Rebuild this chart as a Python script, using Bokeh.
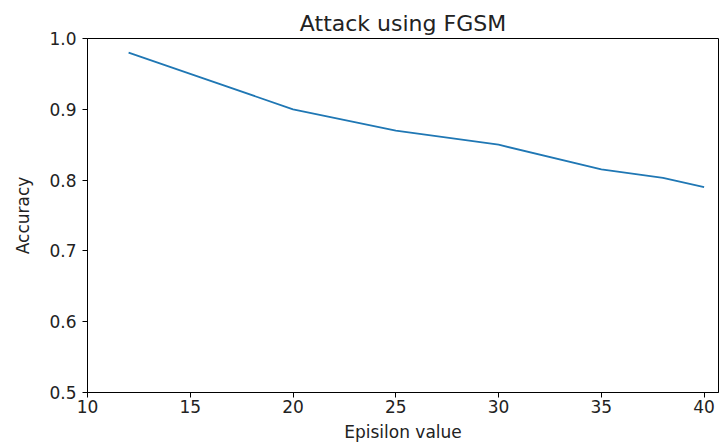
from bokeh.plotting import figure
from bokeh.embed import file_html
from bokeh.resources import INLINE
from bokeh.models import FixedTicker, Range1d, PrintfTickFormatter

epsilon = [12, 15, 20, 25, 30, 35, 38, 40]
accuracy = [0.98, 0.95, 0.90, 0.87, 0.85, 0.815, 0.803, 0.79]
x_ticks = [10, 15, 20, 25, 30, 35, 40]
y_ticks = [0.5, 0.6, 0.7, 0.8, 0.9, 1.0]

FONT = "DejaVu Sans"

p = figure(width=720, height=448, output_backend="svg", toolbar_location=None,
           x_range=Range1d(10, 40.7), y_range=Range1d(0.5, 1.0),
           title="Attack using FGSM",
           min_border_left=87, min_border_right=2, min_border_top=38, min_border_bottom=56)

p.line(epsilon, accuracy, line_color="#1f77b4", line_width=1.8)

p.title.align = "center"
p.title.text_font = FONT
p.title.text_font_size = "22px"
p.title.text_font_style = "normal"
p.title.text_color = "#222222"
p.title.standoff = 6

p.grid.visible = False
p.outline_line_color = "black"
p.outline_line_width = 1
p.outline_line_alpha = 1.0

for ax in (p.xaxis[0], p.yaxis[0]):
    ax.axis_line_color = "black"
    ax.major_tick_line_color = "black"
    ax.major_tick_out = 5
    ax.major_tick_in = 0
    ax.minor_tick_line_color = None
    ax.major_label_text_font = FONT
    ax.major_label_text_font_size = "17px"
    ax.major_label_text_color = "#222222"
    ax.axis_label_text_font = FONT
    ax.axis_label_text_font_size = "17px"
    ax.axis_label_text_font_style = "normal"
    ax.axis_label_text_color = "#222222"

p.xaxis.ticker = FixedTicker(ticks=x_ticks)
p.yaxis.ticker = FixedTicker(ticks=y_ticks)
p.yaxis.formatter = PrintfTickFormatter(format="%.1f")
p.xaxis.axis_label = "Episilon value"
p.yaxis.axis_label = "Accuracy"
p.xaxis.major_label_standoff = 2
p.yaxis.major_label_standoff = 6
p.xaxis.axis_label_standoff = 6
p.yaxis.axis_label_standoff = 13

open("out.html", "w").write(file_html(p, INLINE))
